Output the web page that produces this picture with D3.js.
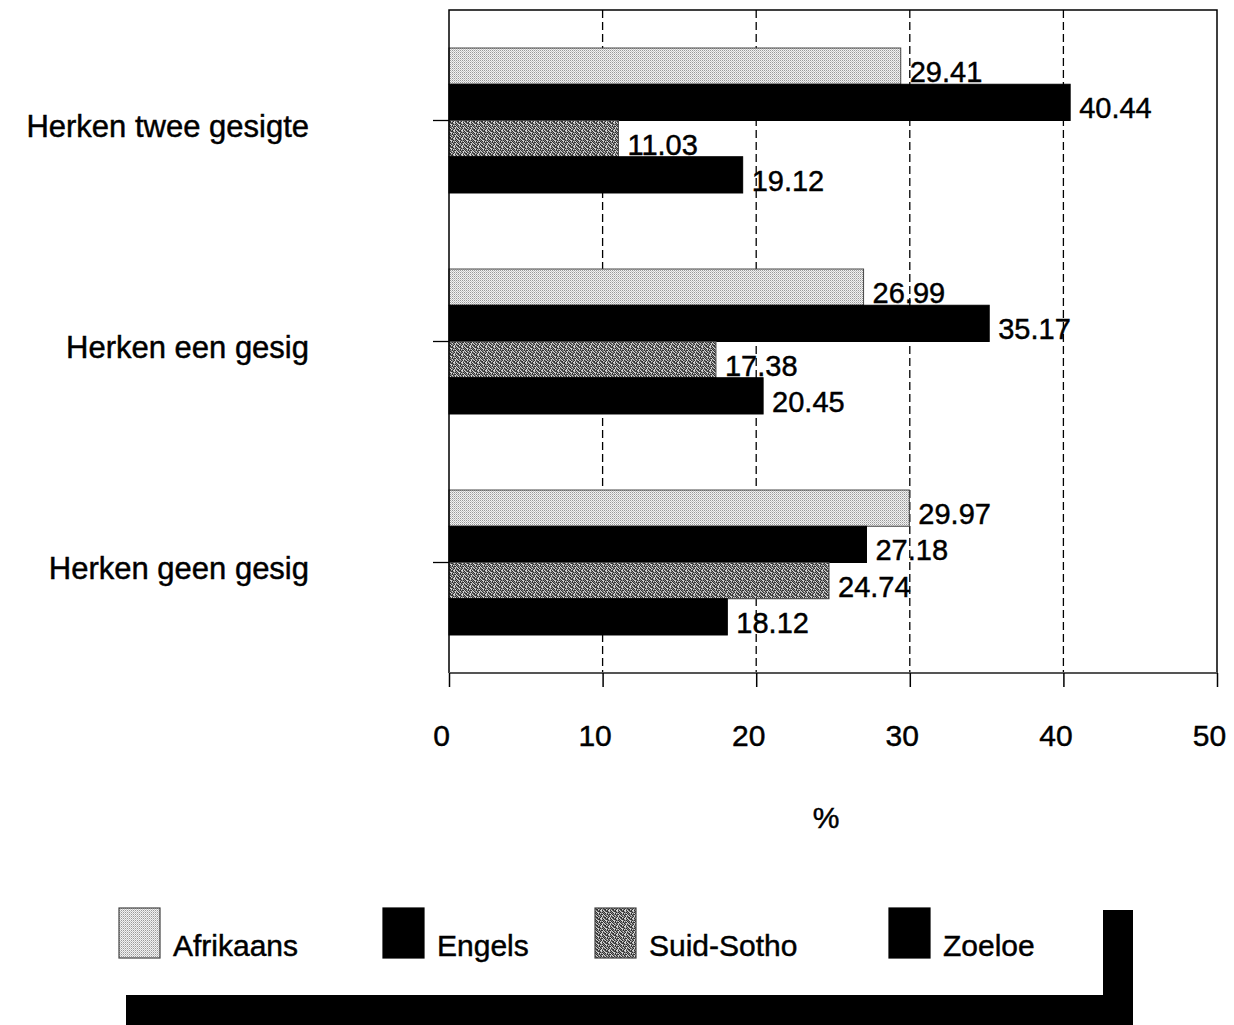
<!DOCTYPE html>
<html>
<head>
<meta charset="utf-8">
<script src="https://cdn.jsdelivr.net/npm/d3@7"></script>
<style>
  body { margin: 0; background: #fff; }
  text { font-family: "Liberation Sans", Arial, sans-serif; fill: #000; stroke: #000; stroke-width: 0.45px; }
</style>
</head>
<body>
<div id="chart"></div>
<script>
// data
var categories = ["Herken twee gesigte", "Herken een gesig", "Herken geen gesig"];
var series = ["Afrikaans", "Engels", "Suid-Sotho", "Zoeloe"];
var afrikaans = [29.41, 26.99, 29.97];
var engels = [40.44, 35.17, 27.18];
var suidSotho = [11.03, 17.38, 24.74];
var zoeloe = [19.12, 20.45, 18.12];
var xTicks = [0, 10, 20, 30, 40, 50];
var values = [afrikaans, engels, suidSotho, zoeloe];

var W = 1234, H = 1025;
var plot = {left: 449, right: 1217, top: 10, bottom: 673};

var svg = d3.select("#chart").append("svg")
    .attr("width", W)
    .attr("height", H);

svg.append("rect").attr("width", W).attr("height", H).attr("fill", "#fff");

// fill patterns (scanned print look)
var defs = svg.append("defs");
var dots = defs.append("pattern").attr("id", "pAfr")
    .attr("width", 2).attr("height", 2).attr("patternUnits", "userSpaceOnUse");
dots.append("rect").attr("width", 2).attr("height", 2).attr("fill", "#f2f2f2");
dots.append("rect").attr("x", 0).attr("y", 0).attr("width", 1).attr("height", 1).attr("fill", "#999");
dots.append("rect").attr("x", 1).attr("y", 1).attr("width", 1).attr("height", 1).attr("fill", "#c4c4c4");

var mottle = ["#:.#::#.", ":##.:#.:", ".:#:#..#", "#.:##:.:",
              ":#..:#:#", "#:#.#.:.", ".#::#:##", ":.#:.#:."];
var shade = {"#": "#303030", ":": "#808080", ".": "#d4d4d4"};
var ss = defs.append("pattern").attr("id", "pSS")
    .attr("width", 8).attr("height", 8).attr("patternUnits", "userSpaceOnUse");
mottle.forEach(function(row, r) {
  row.split("").forEach(function(c, k) {
    ss.append("rect").attr("x", k).attr("y", r).attr("width", 1).attr("height", 1).attr("fill", shade[c]);
  });
});

var fills = ["url(#pAfr)", "#000", "url(#pSS)", "#000"];
var strokes = ["#444", "#000", "#444", "#000"];

var x = d3.scaleLinear().domain([0, 50]).range([plot.left, plot.right]);
var y = d3.scaleBand().domain(categories).range([plot.top, plot.bottom])
    .paddingInner(0.344).paddingOuter(0.172);
var y1 = d3.scaleBand().domain(series).range([0, y.bandwidth()]);

// dashed gridlines
svg.append("g").selectAll("line")
    .data(xTicks.slice(1, -1))
  .enter().append("line")
    .attr("x1", function(d) { return x(d); })
    .attr("x2", function(d) { return x(d); })
    .attr("y1", plot.top)
    .attr("y2", plot.bottom)
    .attr("stroke", "#000")
    .attr("stroke-width", 1.3)
    .attr("stroke-dasharray", "8,4");

// bars + value labels, series by series
series.forEach(function(s, i) {
  var g = svg.append("g");
  g.selectAll("rect")
      .data(values[i])
    .enter().append("rect")
      .attr("x", x(0))
      .attr("y", function(d, j) { return y(categories[j]) + y1(s); })
      .attr("width", function(d) { return x(d) - x(0); })
      .attr("height", y1.bandwidth())
      .attr("fill", fills[i])
      .attr("stroke", strokes[i])
      .attr("stroke-width", 1);
  g.selectAll("text")
      .data(values[i])
    .enter().append("text")
      .attr("x", function(d) { return x(d) + 9; })
      .attr("y", function(d, j) { return y(categories[j]) + y1(s) + y1.bandwidth() / 2 + 16; })
      .attr("font-size", 29)
      .text(function(d) { return d.toFixed(2); });
});

// frame
svg.append("path")
    .attr("d", "M" + plot.left + "," + plot.bottom + "V" + plot.top + "H" + plot.right + "V" + plot.bottom)
    .attr("fill", "none").attr("stroke", "#000").attr("stroke-width", 1.5);
svg.append("line")
    .attr("x1", plot.left).attr("x2", plot.right)
    .attr("y1", plot.bottom).attr("y2", plot.bottom)
    .attr("stroke", "#555").attr("stroke-width", 2);

// x axis
var xAxis = svg.append("g")
    .attr("transform", "translate(0," + plot.bottom + ")")
    .call(d3.axisBottom(x).tickValues(xTicks).tickSize(14).tickPadding(38));
xAxis.select(".domain").remove();
xAxis.selectAll(".tick line").attr("stroke", "#000").attr("stroke-width", 1.5);
xAxis.selectAll("text")
    .attr("font-size", 30)
    .attr("font-family", "Liberation Sans, Arial, sans-serif")
    .attr("dx", -8);

// y axis
var yAxis = svg.append("g")
    .attr("transform", "translate(" + plot.left + ",0)")
    .call(d3.axisLeft(y).tickSize(16).tickPadding(124));
yAxis.select(".domain").remove();
yAxis.selectAll(".tick line").attr("stroke", "#000").attr("stroke-width", 1.3);
yAxis.selectAll("text")
    .attr("font-size", 31)
    .attr("font-family", "Liberation Sans, Arial, sans-serif")
    .attr("dy", "0.53em");

// axis title
svg.append("text")
    .attr("x", (plot.left + plot.right) / 2 - 7)
    .attr("y", 828)
    .attr("text-anchor", "middle")
    .attr("font-size", 30)
    .text("%");

// legend with heavy shadow
var box = {x: 96, y: 880, w: 1007, h: 115};
svg.append("rect")
    .attr("x", box.x + 30).attr("y", box.y + 30)
    .attr("width", box.w).attr("height", box.h + 40)
    .attr("fill", "#000");
svg.append("rect")
    .attr("x", box.x).attr("y", box.y)
    .attr("width", box.w).attr("height", box.h)
    .attr("fill", "#fff");

var legendX = [119, 383, 595, 889];
var leg = svg.append("g").selectAll("g")
    .data(series)
  .enter().append("g")
    .attr("transform", function(d, i) { return "translate(" + legendX[i] + ",908)"; });
leg.append("rect")
    .attr("width", 41).attr("height", 50)
    .attr("fill", function(d, i) { return fills[i]; })
    .attr("stroke", function(d, i) { return strokes[i]; })
    .attr("stroke-width", 1.2);
leg.append("text")
    .attr("x", 54).attr("y", 48)
    .attr("font-size", 30)
    .text(function(d) { return d; });
</script>
</body>
</html>
